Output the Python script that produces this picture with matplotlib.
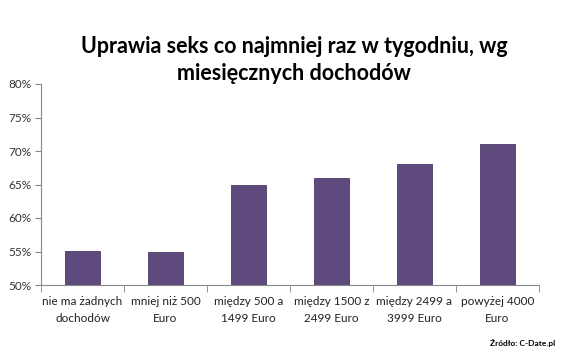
import matplotlib.pyplot as plt

categories = ['nie ma żadnych\ndochodów', 'mniej niż 500\nEuro', 'między 500 a\n1499 Euro',
              'między 1500 z\n2499 Euro', 'między 2499 a\n3999 Euro', 'powyżej 4000\nEuro']
values = [55.1, 54.9, 65, 66, 68, 71]
yticks = [50, 55, 60, 65, 70, 75, 80]

plt.rcParams['font.family'] = ['Lato', 'DejaVu Sans']

fig = plt.figure(figsize=(5.71, 3.54), dpi=100)
ax = fig.add_axes([41 / 571, 1 - 285 / 354, 498 / 571, 201 / 354])

x = range(len(categories))
ax.bar(x, values, width=0.43, color='#5f4a7d', edgecolor='#4a3a6a', linewidth=0.6)

ax.set_ylim(50, 80)
ax.set_xlim(-0.5, len(categories) - 0.5)
ax.set_yticks(yticks)
ax.set_yticklabels([f'{v}%' for v in yticks], fontsize=8.5, color='#333333')
ax.set_xticks(list(x))
ax.set_xticklabels(categories, fontsize=8.5, color='#222222', linespacing=1.7)
ax.tick_params(axis='x', length=0, pad=8)
ax.set_xticks([i + 0.5 for i in range(-1, len(categories))], minor=True)
ax.tick_params(axis='x', which='minor', length=5, color='#888888')
ax.tick_params(axis='y', length=4, color='#888888', pad=3)

for side in ['top', 'right']:
    ax.spines[side].set_visible(False)
for side in ['left', 'bottom']:
    ax.spines[side].set_color('#888888')
    ax.spines[side].set_linewidth(0.8)

fig.text(0.515, 1 - 60 / 354, 'Uprawia seks co najmniej raz w tygodniu, wg\nmiesięcznych dochodów',
         ha='center', va='center', fontsize=15.5, fontweight='bold', linespacing=1.35)
fig.text(555 / 571, 1 - 343 / 354, 'Źródło: C-Date.pl', ha='right', va='center',
         fontsize=6, fontweight='bold')

fig.savefig('out.png', dpi=100)
